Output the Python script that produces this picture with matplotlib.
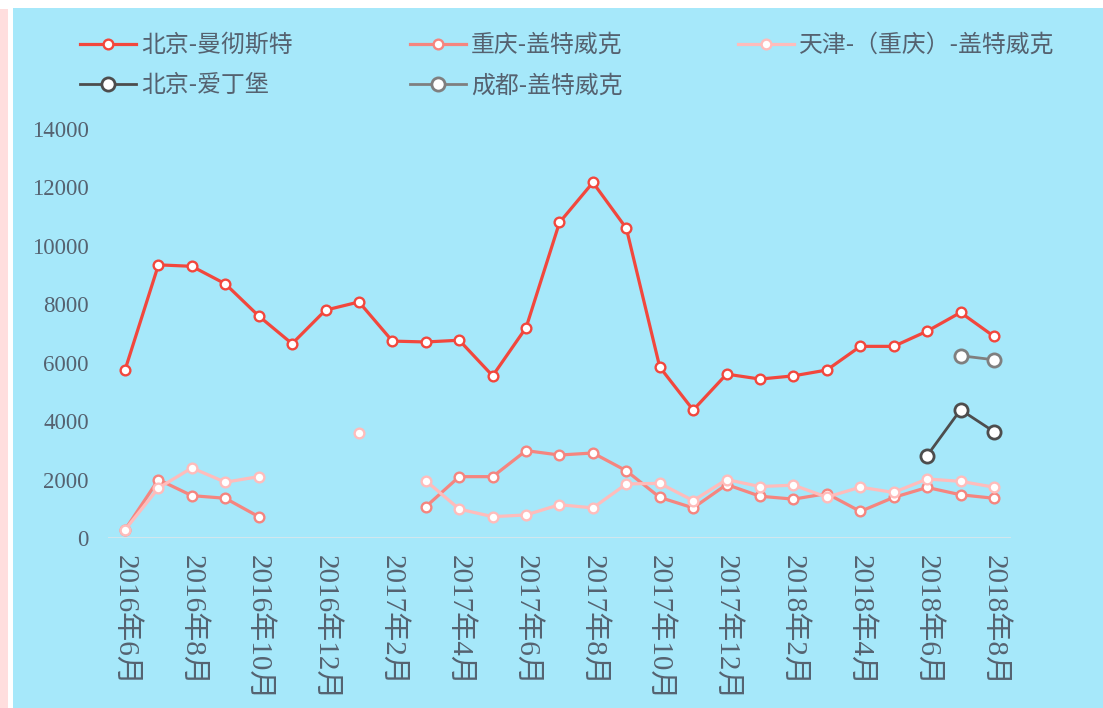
import numpy as np
import matplotlib
matplotlib.use('Agg')
import matplotlib.pyplot as plt
from matplotlib.patches import Rectangle

nan = np.nan

# ---- data ----
months = ['2016年6月', '2016年7月', '2016年8月', '2016年9月', '2016年10月', '2016年11月',
          '2016年12月', '2017年1月', '2017年2月', '2017年3月', '2017年4月', '2017年5月',
          '2017年6月', '2017年7月', '2017年8月', '2017年9月', '2017年10月', '2017年11月',
          '2017年12月', '2018年1月', '2018年2月', '2018年3月', '2018年4月', '2018年5月',
          '2018年6月', '2018年7月', '2018年8月']

bj_man = [5750, 9350, 9300, 8700, 7600, 6650, 7800, 8080, 6740, 6710, 6770, 5550,
          7200, 10800, 12170, 10600, 5850, 4380, 5610, 5440, 5550, 5750, 6560, 6560,
          7080, 7720, 6900]
cq_lgw = [280, 2000, 1450, 1360, 730, nan, nan, nan, nan, 1070, 2100, 2100,
          2990, 2840, 2910, 2300, 1390, 1030, 1830, 1430, 1330, 1520, 910, 1390,
          1730, 1480, 1360]
tj_lgw = [280, 1710, 2400, 1910, 2100, nan, nan, 3580, nan, 1960, 990, 730,
          790, 1140, 1030, 1850, 1870, 1280, 2000, 1760, 1810, 1400, 1740, 1560,
          2020, 1940, 1740]
bj_edi = [nan] * 24 + [2820, 4390, 3640]
cd_lgw = [nan] * 25 + [6240, 6100]

series_names = ['北京-曼彻斯特', '重庆-盖特威克', '天津-（重庆）-盖特威克', '北京-爱丁堡', '成都-盖特威克']
series_vals = [bj_man, cq_lgw, tj_lgw, bj_edi, cd_lgw]
series_colors = ['#F2473D', '#F5857F', '#FFBCBB', '#4D4D4D', '#7F7F7F']

yticks = list(range(0, 14001, 2000))

# ---- figure ----
W, H = 1103, 708
fig = plt.figure(figsize=(W / 100, H / 100), dpi=100, facecolor='white')
fig.patches.append(Rectangle((0, 0), 8 / W, 1 - 9 / H, transform=fig.transFigure,
                             facecolor='#FFDEDE', edgecolor='none', zorder=-10))
fig.patches.append(Rectangle((13 / W, 0), 1 - 13 / W, 1 - 8 / H, transform=fig.transFigure,
                             facecolor='#A6E8FA', edgecolor='none', zorder=-10))

ax = fig.add_axes([108.3 / W, (H - 538) / H, 902.4 / W, 409 / H])
ax.patch.set_visible(False)
x = np.arange(len(months))

text_color = '#556270'
serif_cjk = ['Liberation Serif', 'Noto Sans CJK SC']

handles = []
for name, vals, col in zip(series_names, series_vals, series_colors):
    big = col in ('#4D4D4D', '#7F7F7F')
    ln, = ax.plot(x, vals, color=col, lw=2.3 if not big else 2.0,
                  marker='o', markersize=7 if not big else 9.5,
                  markerfacecolor='white', markeredgecolor=col,
                  markeredgewidth=1.7 if not big else 2.0, label=name,
                  clip_on=False, zorder=3)
    handles.append(ln)

ax.axhline(0, color='#D8E6EC', lw=2, zorder=1)
ax.set_xlim(-0.5, len(months) - 0.5)
ax.set_ylim(0, 14000)
for s in ax.spines.values():
    s.set_visible(False)

ax.set_yticks(yticks)
ax.set_yticklabels([str(v) for v in yticks], family=serif_cjk, fontsize=16.5, color=text_color)
tick_idx = list(range(0, len(months), 2))
ax.set_xticks(tick_idx)
ax.set_xticklabels([months[i] for i in tick_idx], family=serif_cjk, fontsize=21,
                   color=text_color, rotation=-90, va='top', ha='center')
ax.tick_params(axis='y', length=0, pad=14)
ax.tick_params(axis='x', length=0, pad=12)

# ---- legend: three columns ----
cols = [[0, 3], [1, 4], [2]]
col_x = [80, 410, 738]
for cidx, xpx in zip(cols, col_x):
    lg = fig.legend([handles[i] for i in cidx], [series_names[i] for i in cidx],
                    loc='upper left', bbox_to_anchor=(xpx / W, 1 - 34 / H),
                    frameon=False, borderpad=0, borderaxespad=0,
                    handlelength=2.35, handletextpad=0.2, labelspacing=0.72,
                    prop={'family': 'Noto Sans CJK SC', 'size': 17.2})
    for t in lg.get_texts():
        t.set_color(text_color)

fig.savefig('out.png', dpi=100, facecolor=fig.get_facecolor())
